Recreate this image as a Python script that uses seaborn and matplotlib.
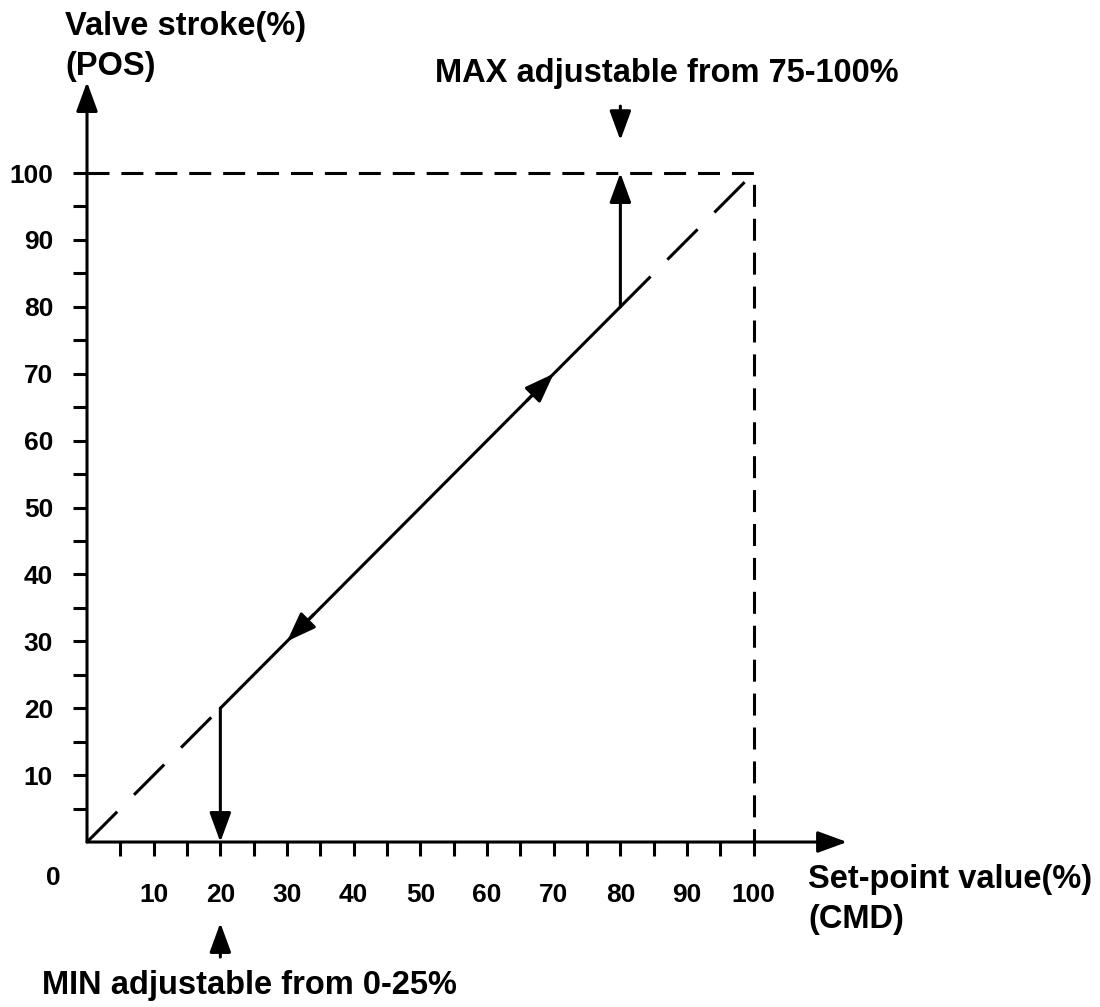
import pandas as pd
import matplotlib.pyplot as plt
import seaborn as sns

# characteristic curve of the positioner: POS follows CMD between MIN and MAX
cmd_active = [20, 80]
pos_active = [20, 80]
cmd_low = [0, 20]
pos_low = [0, 20]
cmd_high = [80, 100]
pos_high = [80, 100]
limit_cmd = [0, 100, 100]
limit_pos = [100, 100, 0]

min_setpoint = 20
max_setpoint = 80
up_arrow_tip = 70
down_arrow_tip = 30

major_ticks = [10, 20, 30, 40, 50, 60, 70, 80, 90, 100]
minor_ticks = [5, 15, 25, 35, 45, 55, 65, 75, 85, 95]

sns.set_style("white")
plt.rcParams['font.family'] = ['Liberation Sans', 'DejaVu Sans']
plt.rcParams['font.weight'] = 'bold'
plt.rcParams['text.color'] = 'black'
plt.rcParams['xtick.color'] = 'black'
plt.rcParams['ytick.color'] = 'black'

fig = plt.figure(figsize=(11, 10.07), dpi=100)
ax = fig.add_axes([0, 0, 1, 1])

lw = 2.2
df_active = pd.DataFrame({'cmd': cmd_active, 'pos': pos_active})
df_low = pd.DataFrame({'cmd': cmd_low, 'pos': pos_low})
df_high = pd.DataFrame({'cmd': cmd_high, 'pos': pos_high})
df_limit = pd.DataFrame({'cmd': limit_cmd, 'pos': limit_pos})

sns.lineplot(data=df_active, x='cmd', y='pos', color='black', lw=lw,
             estimator=None, ax=ax)
for d in (df_low, df_high):
    sns.lineplot(data=d, x='cmd', y='pos', color='black', lw=lw,
                 estimator=None, ax=ax).lines[-1].set_dashes((14, 7.8))
sns.lineplot(data=df_limit, x='cmd', y='pos', sort=False, estimator=None,
             errorbar=None, color='black', lw=lw,
             ax=ax).lines[-1].set_dashes((7.2, 3.9))


def arrow(tail, tip):
    ax.annotate('', xy=tip, xytext=tail,
                arrowprops=dict(arrowstyle='-|>,head_length=0.9,head_width=0.33',
                                mutation_scale=20, lw=lw, color='black',
                                shrinkA=0, shrinkB=0))


# axes with arrow heads
arrow((0, 0), (114, 0))
arrow((0, 0), (0, 113.6))

# MIN / MAX limits
arrow((max_setpoint, max_setpoint), (max_setpoint, 100))
arrow((max_setpoint, 110), (max_setpoint, 104.9))
arrow((min_setpoint, min_setpoint), (min_setpoint, 0))
arrow((min_setpoint, -17.2), (min_setpoint, -12.1))

# direction arrows on the curve
arrow((up_arrow_tip - 4, up_arrow_tip - 4), (up_arrow_tip, up_arrow_tip))
arrow((down_arrow_tip + 4, down_arrow_tip + 4), (down_arrow_tip, down_arrow_tip))

ax.set_xlim(-13.05, 151.94)
ax.set_ylim(-24.66, 125.86)
for s in ax.spines.values():
    s.set_visible(False)
ax.spines['left'].set_position(('data', 0))
ax.spines['bottom'].set_position(('data', 0))

ax.set_xticks(major_ticks)
ax.set_xticks(minor_ticks, minor=True)
ax.set_yticks(major_ticks)
ax.set_yticks(minor_ticks, minor=True)
ax.set_xticklabels([str(t) for t in major_ticks])
ax.set_yticklabels([str(t) for t in major_ticks])
ax.tick_params(which='both', direction='out', length=10, width=lw,
               color='black', bottom=True, left=True)
ax.tick_params(axis='x', pad=19.5, labelsize=19)
ax.tick_params(axis='y', pad=14.4, labelsize=19)
ax.set_xlabel('')
ax.set_ylabel('')

ax.text(-5.1, -5.4, '0', ha='center', va='center', fontsize=19)
ax.text(-3.3, 118.9, 'Valve stroke(%)\n(POS)', ha='left', va='center',
        fontsize=23.5, linespacing=1.4)
ax.text(108.2, -8.6, 'Set-point value(%)\n(CMD)', ha='left', va='center',
        fontsize=23.5, linespacing=1.4)
ax.text(87.0, 114.8, 'MAX adjustable from 75-100%', ha='center', va='center',
        fontsize=23.5)
ax.text(-6.75, -21.4, 'MIN adjustable from 0-25%', ha='left', va='center',
        fontsize=23.5)

plt.savefig('out.png', dpi=100)
